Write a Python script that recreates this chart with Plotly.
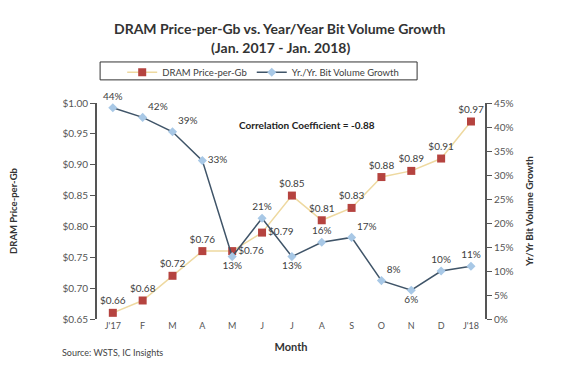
import plotly.graph_objects as go

months = ["J'17", "F", "M", "A", "M", "J", "J", "A", "S", "O", "N", "D", "J'18"]
price = [0.66, 0.68, 0.72, 0.76, 0.76, 0.79, 0.85, 0.81, 0.83, 0.88, 0.89, 0.91, 0.97]
growth = [44, 42, 39, 33, 13, 21, 13, 16, 17, 8, 6, 10, 11]
price_labels = ["$%.2f" % v for v in price]
growth_labels = ["%d%%" % v for v in growth]
price_pos = ["top center", "top center", "top center", "top center", "middle right", "middle right",
             "top center", "top center", "top center", "top center", "top center", "top center", "top center"]
growth_pos = ["top center", "top right", "top right", "middle right", "bottom center", "top center",
              "bottom center", "top center", "top right", "top right", "bottom center", "top center", "top center"]

x = list(range(len(months)))
FONT = "Lato, Open Sans, sans-serif"
TXT = "#404040"

fig = go.Figure()
fig.add_trace(go.Scatter(
    x=x, y=price, name="DRAM Price-per-Gb", mode="lines+markers+text",
    line=dict(color="#EED9A0", width=1.5),
    marker=dict(symbol="square", size=8, color="#B5433F"),
    text=price_labels, textposition=price_pos,
    textfont=dict(family=FONT, size=10, color=TXT),
    yaxis="y", cliponaxis=False))
fig.add_trace(go.Scatter(
    x=x, y=growth, name="Yr./Yr. Bit Volume Growth", mode="lines+markers+text",
    line=dict(color="#3F5468", width=1.5),
    marker=dict(symbol="diamond", size=7, color="#A8C8E6"),
    text=growth_labels, textposition=growth_pos,
    textfont=dict(family=FONT, size=10, color=TXT),
    yaxis="y2", cliponaxis=False))

fig.update_layout(
    width=580, height=369,
    margin=dict(l=89, r=103, t=95, b=58, autoexpand=False),
    paper_bgcolor="white", plot_bgcolor="white",
    font=dict(family=FONT, color=TXT),
    showlegend=True,
    legend=dict(orientation="h", xref="container", yref="container", x=0.44, xanchor="center",
                y=0.826, yanchor="middle",
                font=dict(family=FONT, size=9.5, color=TXT),
                bgcolor="rgba(0,0,0,0)", borderwidth=0),
    xaxis=dict(tickmode="array", tickvals=x, ticktext=months, range=[-0.53, 12.47],
               showline=False, showgrid=False, zeroline=False, ticks="", automargin=False,
               tickfont=dict(family=FONT, size=9, color="#555555"),
               title=dict(text="<b>Month</b>", font=dict(family=FONT, size=11, color="#333333"), standoff=13)),
    yaxis=dict(range=[0.65, 1.0], dtick=0.05, tickformat="$.2f", showline=True, linecolor="#555555",
               linewidth=2, ticks="outside", ticklen=5, tickcolor="#555555", showgrid=False, zeroline=False,
               automargin=False,
               tickfont=dict(family=FONT, size=10, color="#555555"),
               title=dict(text="<b>DRAM Price-per-Gb</b>", font=dict(family=FONT, size=9.5, color="#333333"), standoff=44)),
    yaxis2=dict(range=[0, 45], dtick=5, ticksuffix="%", overlaying="y", side="right", showline=True,
                linecolor="#555555", linewidth=2, ticks="outside", ticklen=5, tickcolor="#555555",
                showgrid=False, zeroline=False, automargin=False,
                tickfont=dict(family=FONT, size=10, color="#555555"),
                title=dict(text="<b>Yr/Yr Bit Volume Growth</b>", font=dict(family=FONT, size=10, color="#333333"), standoff=13)),
    shapes=[dict(type="rect", xref="paper", yref="paper", x0=0.008, x1=0.825, y0=1.107, y1=1.19,
                 line=dict(color="#333333", width=1))],
    annotations=[
        dict(text="<b>DRAM Price-per-Gb vs. Year/Year Bit Volume Growth</b>", xref="paper", yref="paper",
             x=0.472, y=1.347, xanchor="center", yanchor="middle", showarrow=False,
             font=dict(family=FONT, size=14, color="#333333")),
        dict(text="<b>(Jan. 2017 - Jan. 2018)</b>", xref="paper", yref="paper", x=0.472, y=1.259,
             xanchor="center", yanchor="middle", showarrow=False, font=dict(family=FONT, size=14, color="#333333")),
        dict(text="<b>Correlation Coefficient = -0.88</b>", xref="paper", yref="paper", x=0.54, y=0.9,
             xanchor="center", yanchor="middle", showarrow=False, font=dict(family=FONT, size=10, color="#222222")),
        dict(text="Source: WSTS, IC Insights", xref="paper", yref="paper", x=-0.095, y=-0.157,
             xanchor="left", yanchor="middle", showarrow=False, font=dict(family=FONT, size=9, color="#444444")),
    ],
)

fig.write_html("out.html")
